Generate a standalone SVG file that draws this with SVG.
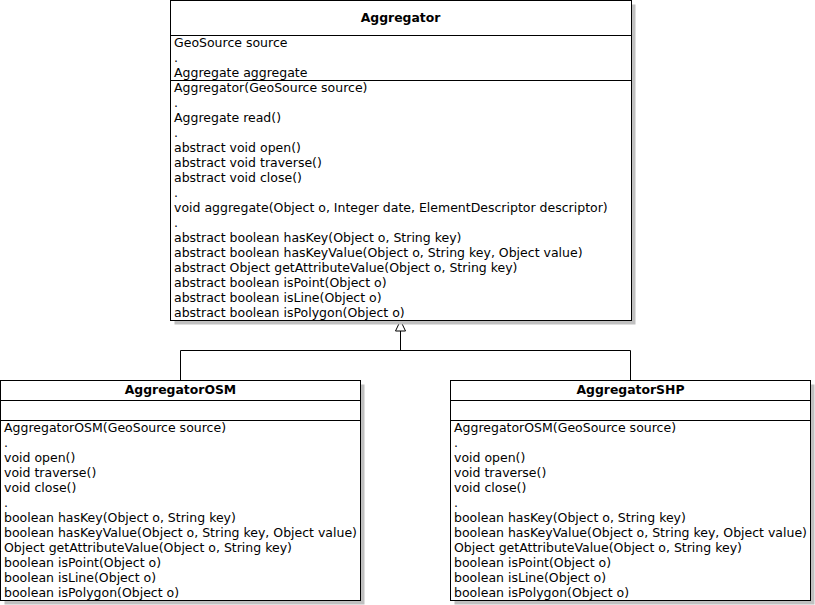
<svg xmlns="http://www.w3.org/2000/svg" width="815" height="605" viewBox="0 0 815 605">
<style>
.box{fill:#fff;stroke:#000;stroke-width:1}
.shadow{fill:#c0c0c0}
.sep{stroke:#000;stroke-width:1}
text{font-family:"DejaVu Sans",sans-serif;font-size:12.5px;fill:#000}
.title{font-weight:bold;text-anchor:middle;font-size:12.4px}
.conn{fill:none;stroke:#000;stroke-width:1}
</style>
<rect x="0" y="0" width="815" height="605" fill="#fff"/>
<g id="connectors">
<polyline class="conn" points="180.5,380 180.5,350.5 630.5,350.5 630.5,380"/>
<line class="conn" x1="400.5" y1="331" x2="400.5" y2="350.5"/>
<polygon points="400.5,320.5 395.5,331 405.5,331" fill="#fff" stroke="#000" stroke-width="1"/>
</g>
<g id="Aggregator">
<rect class="shadow" x="174.5" y="4.5" width="461" height="320"/>
<rect class="box" x="170.5" y="0.5" width="461" height="320"/>
<line class="sep" x1="170.5" y1="35.5" x2="631.5" y2="35.5"/>
<line class="sep" x1="170.5" y1="80.5" x2="631.5" y2="80.5"/>
<text class="title" x="400.5" y="22">Aggregator</text>
<text x="174" y="47">GeoSource source</text>
<text x="174" y="62">.</text>
<text x="174" y="77">Aggregate aggregate</text>
<text x="174" y="92">Aggregator(GeoSource source)</text>
<text x="174" y="107">.</text>
<text x="174" y="122">Aggregate read()</text>
<text x="174" y="137">.</text>
<text x="174" y="152">abstract void open()</text>
<text x="174" y="167">abstract void traverse()</text>
<text x="174" y="182">abstract void close()</text>
<text x="174" y="197">.</text>
<text x="174" y="212">void aggregate(Object o, Integer date, ElementDescriptor descriptor)</text>
<text x="174" y="227">.</text>
<text x="174" y="242">abstract boolean hasKey(Object o, String key)</text>
<text x="174" y="257">abstract boolean hasKeyValue(Object o, String key, Object value)</text>
<text x="174" y="272">abstract Object getAttributeValue(Object o, String key)</text>
<text x="174" y="287">abstract boolean isPoint(Object o)</text>
<text x="174" y="302">abstract boolean isLine(Object o)</text>
<text x="174" y="317">abstract boolean isPolygon(Object o)</text>
</g>
<g id="AggregatorOSM">
<rect class="shadow" x="4.5" y="384.5" width="360" height="220"/>
<rect class="box" x="0.5" y="380.5" width="360" height="220"/>
<line class="sep" x1="0.5" y1="400.5" x2="360.5" y2="400.5"/>
<line class="sep" x1="0.5" y1="420.5" x2="360.5" y2="420.5"/>
<text class="title" x="180.5" y="394">AggregatorOSM</text>
<text x="4" y="432">AggregatorOSM(GeoSource source)</text>
<text x="4" y="447">.</text>
<text x="4" y="462">void open()</text>
<text x="4" y="477">void traverse()</text>
<text x="4" y="492">void close()</text>
<text x="4" y="507">.</text>
<text x="4" y="522">boolean hasKey(Object o, String key)</text>
<text x="4" y="537">boolean hasKeyValue(Object o, String key, Object value)</text>
<text x="4" y="552">Object getAttributeValue(Object o, String key)</text>
<text x="4" y="567">boolean isPoint(Object o)</text>
<text x="4" y="582">boolean isLine(Object o)</text>
<text x="4" y="597">boolean isPolygon(Object o)</text>
</g>
<g id="AggregatorSHP">
<rect class="shadow" x="454.5" y="384.5" width="360" height="220"/>
<rect class="box" x="450.5" y="380.5" width="360" height="220"/>
<line class="sep" x1="450.5" y1="400.5" x2="810.5" y2="400.5"/>
<line class="sep" x1="450.5" y1="420.5" x2="810.5" y2="420.5"/>
<text class="title" x="630.5" y="394">AggregatorSHP</text>
<text x="454" y="432">AggregatorOSM(GeoSource source)</text>
<text x="454" y="447">.</text>
<text x="454" y="462">void open()</text>
<text x="454" y="477">void traverse()</text>
<text x="454" y="492">void close()</text>
<text x="454" y="507">.</text>
<text x="454" y="522">boolean hasKey(Object o, String key)</text>
<text x="454" y="537">boolean hasKeyValue(Object o, String key, Object value)</text>
<text x="454" y="552">Object getAttributeValue(Object o, String key)</text>
<text x="454" y="567">boolean isPoint(Object o)</text>
<text x="454" y="582">boolean isLine(Object o)</text>
<text x="454" y="597">boolean isPolygon(Object o)</text>
</g>
</svg>
